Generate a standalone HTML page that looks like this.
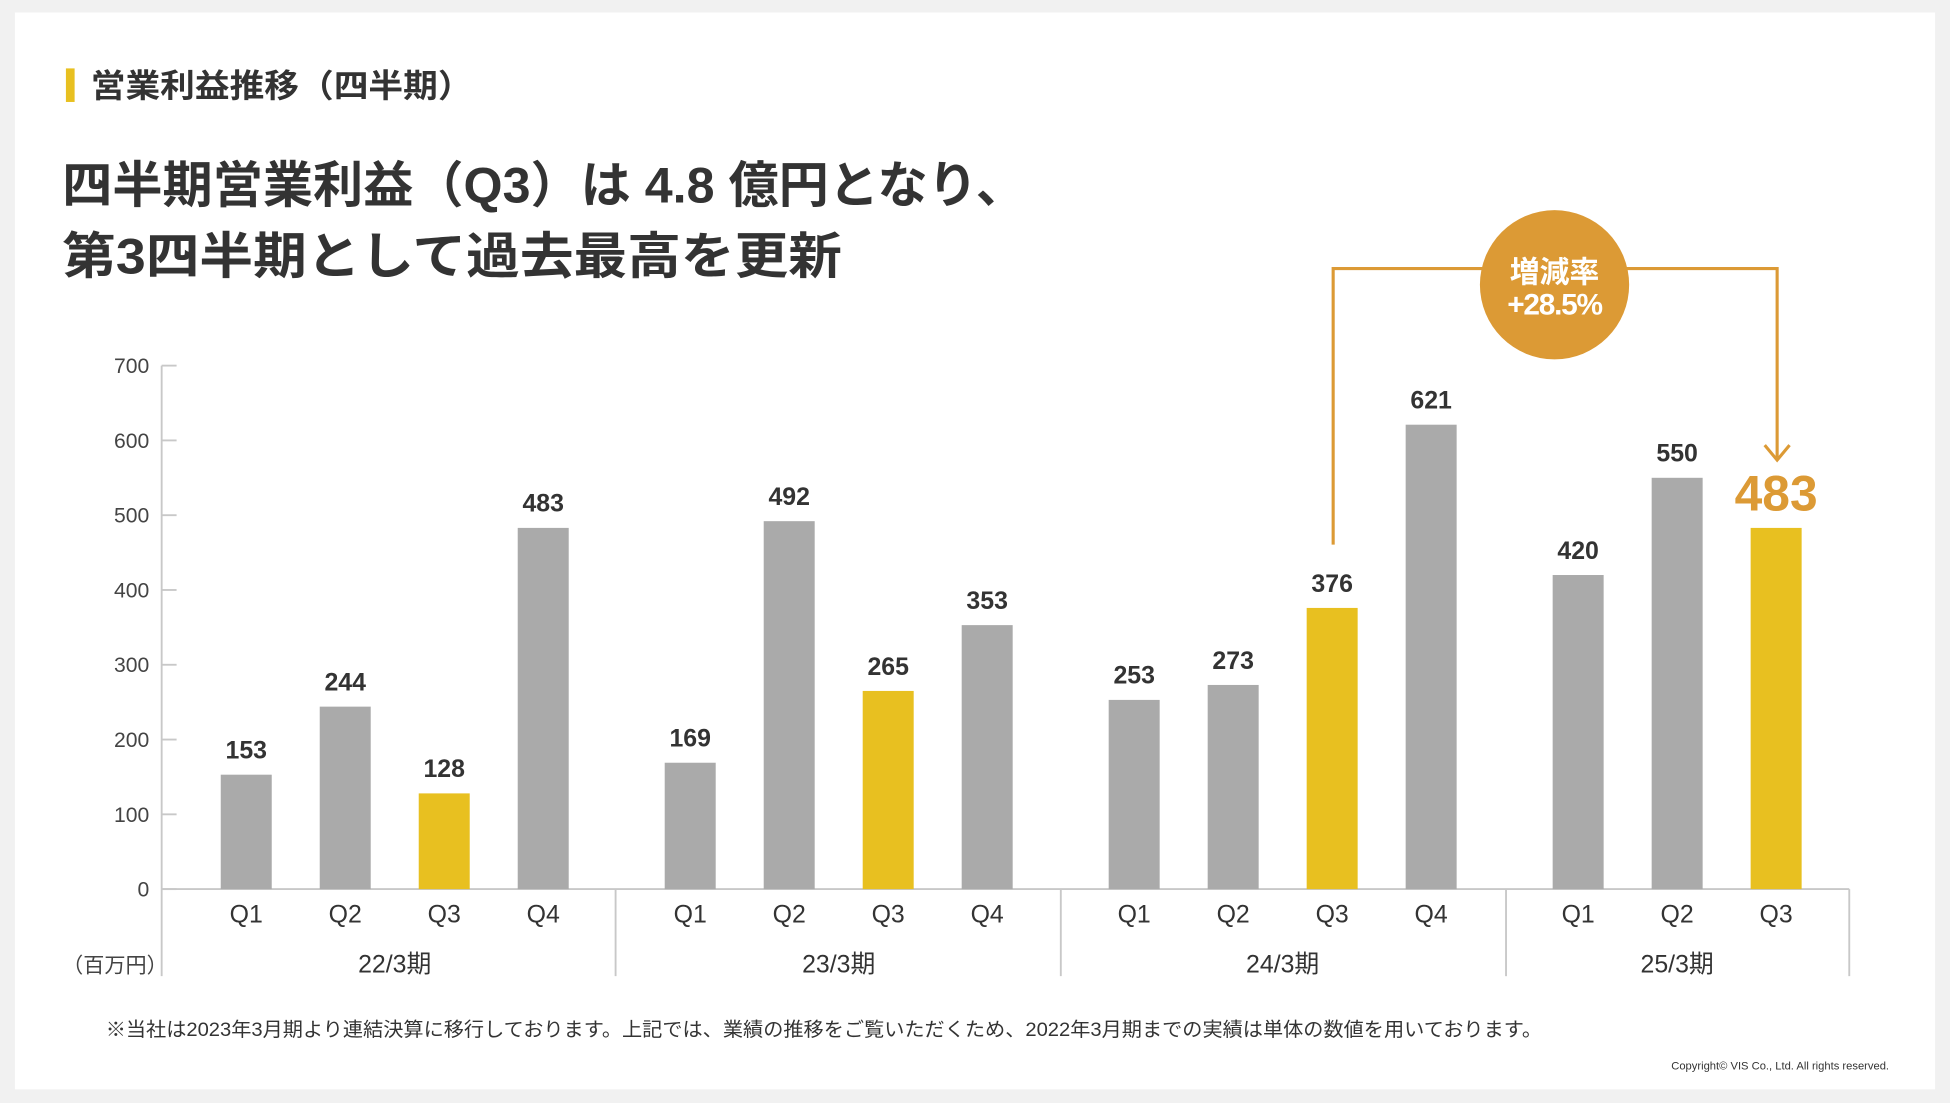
<!DOCTYPE html>
<html><head><meta charset="utf-8"><style>
html,body{margin:0;padding:0;background:#f1f1f1;}
svg{display:block;font-family:"Liberation Sans","Noto Sans CJK JP",sans-serif;}
</style></head><body>
<svg id="chart" width="1950" height="1103" viewBox="0 0 1568 887" preserveAspectRatio="none" xmlns="http://www.w3.org/2000/svg">
<rect x="0" y="0" width="1568" height="887" fill="#f1f1f1"/>
<rect x="12" y="10" width="1544" height="866" fill="#ffffff"/>
<rect x="53" y="55" width="7" height="27" fill="#e8c020"/>
<text x="73" y="78" font-size="26" font-weight="bold" fill="#333" textLength="307" lengthAdjust="spacingAndGlyphs">営業利益推移（四半期）</text>
<text x="50" y="163" font-size="40" font-weight="bold" fill="#333" textLength="775" lengthAdjust="spacingAndGlyphs">四半期営業利益（Q3）は 4.8 億円となり、</text>
<text x="50" y="220" font-size="40" font-weight="bold" fill="#333" textLength="627" lengthAdjust="spacingAndGlyphs">第3四半期として過去最高を更新</text>
<g id="axes"></g>
<g id="bars"></g>
<g>
<polyline points="1072,438 1072,216 1429,216 1429,368" fill="none" stroke="#dc9a35" stroke-width="2.5"/>
<polyline points="1419,358 1429,370 1439,358" fill="none" stroke="#dc9a35" stroke-width="2.5"/>
<circle cx="1250" cy="229" r="60" fill="#dc9a35"/>
<text x="1250" y="227" text-anchor="middle" font-size="24" font-weight="bold" fill="#fff">増減率</text>
<text x="1250" y="253" text-anchor="middle" font-size="24" font-weight="bold" fill="#fff" letter-spacing="-1">+28.5%</text>
</g>
<text x="50" y="782" font-size="17" fill="#444">（百万円）</text>
<text x="85" y="833" font-size="15.5" fill="#333" textLength="1155" lengthAdjust="spacingAndGlyphs">※当社は2023年3月期より連結決算に移行しております。上記では、業績の推移をご覧いただくため、2022年3月期までの実績は単体の数値を用いております。</text>
<text x="1519" y="860" text-anchor="end" font-size="9" fill="#333">Copyright© VIS Co., Ltd. All rights reserved.</text>
</svg>
<script>
const groups = ["22/3期","23/3期","24/3期","25/3期"];
const quarters = ["Q1","Q2","Q3","Q4"];
const values = [[153,244,128,483],[169,492,265,353],[253,273,376,621],[420,550,483]];
const yTicks = [0,100,200,300,400,500,600,700];
const NS="http://www.w3.org/2000/svg";
const y0=715, pxPer=0.6014;
function yScale(v){return y0 - v*pxPer;}
function xScale(g,i){return 198 + g*357 + i*79.6;}
function mk(tag,attrs,parent,text){const e=document.createElementNS(NS,tag);for(const k in attrs)e.setAttribute(k,attrs[k]);if(text!==undefined)e.textContent=text;parent.appendChild(e);return e;}
const axes=document.getElementById('axes'), bars=document.getElementById('bars');
const yl=mk('line',{x1:130,y1:294,x2:130,y2:785,stroke:'#c8c8c8','stroke-width':1.5},axes);


yTicks.forEach(t=>{
  const tk=mk('line',{x1:130,y1:yScale(t),x2:142,y2:yScale(t),stroke:'#c8c8c8','stroke-width':1.5},axes);
  
  
  const lb=mk('text',{x:120,y:yScale(t)+6,'text-anchor':'end','font-size':17,fill:'#444'},axes,String(t));
  
  
});
const xl=mk('line',{x1:130,y1:y0,x2:1487,y2:y0,stroke:'#c8c8c8','stroke-width':1.5},axes);


[495,853,1211,1487].forEach(x=>{
  const s=mk('line',{x1:x,y1:y0,x2:x,y2:785,stroke:'#c8c8c8','stroke-width':1.5},axes);
  
  
});
values.forEach((arr,g)=>{
  arr.forEach((v,i)=>{
    const cx=xScale(g,i);
    const isQ3=i===2;
    const last=(g===values.length-1&&i===arr.length-1);
    const r=mk('rect',{x:cx-20.5,y:yScale(v),width:41,height:y0-yScale(v),fill:isQ3?'#e8c020':'#aaaaaa'},bars);
    
    
    const t=mk('text',{x:cx,y:yScale(v)-(last?14:13),'text-anchor':'middle','font-size':last?40:20,'font-weight':'bold',fill:last?'#dc9a35':'#333'},bars,String(v));
    
    
    const q=mk('text',{x:cx,y:742,'text-anchor':'middle','font-size':20,fill:'#333'},bars,quarters[i]);
    
    
  });
  const gc=(xScale(g,0)+xScale(g,arr.length-1))/2;
  const gl=mk('text',{x:gc,y:782,'text-anchor':'middle','font-size':20,fill:'#333'},bars,groups[g]);
  
  
});
</script>
</body></html>
